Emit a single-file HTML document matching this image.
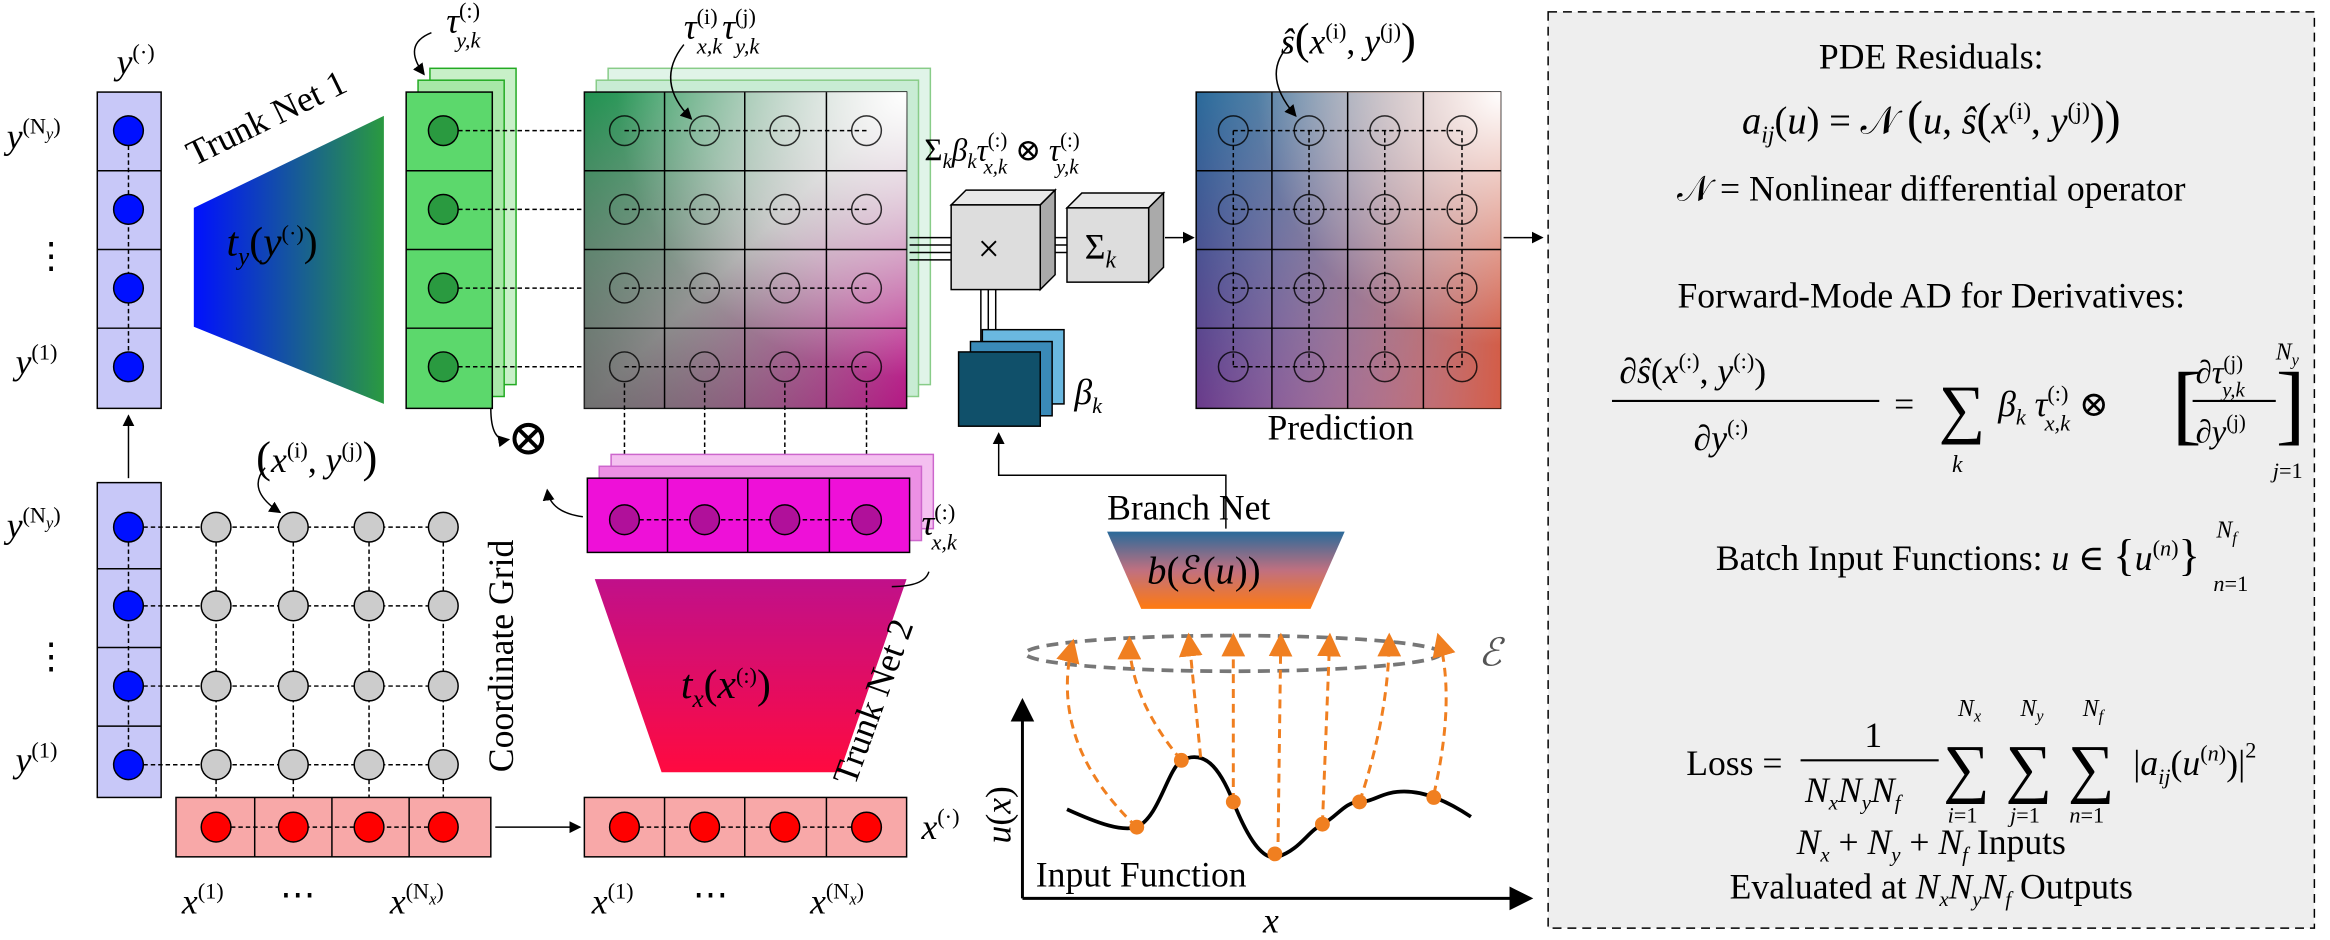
<!DOCTYPE html>
<html><head><meta charset="utf-8"><style>
html,body{margin:0;padding:0;background:#fff}
svg{display:block}
text{font-family:"Liberation Serif","DejaVu Serif",serif;fill:#000}
.it{font-style:italic}
</style></head><body>
<svg width="2330" height="940" viewBox="0 0 1568 633" xmlns="http://www.w3.org/2000/svg">
<defs>
<linearGradient id="gT1" x1="0" x2="1"><stop offset="0" stop-color="#0010ff"/><stop offset="1" stop-color="#2a9a40"/></linearGradient>
<linearGradient id="gT2" x1="0" y1="0" x2="0" y2="1"><stop offset="0" stop-color="#c0108a"/><stop offset="1" stop-color="#ff0a40"/></linearGradient>
<linearGradient id="gBr" x1="0" y1="0" x2="0" y2="1"><stop offset="0" stop-color="#2a6a9a"/><stop offset="0.5" stop-color="#c07080"/><stop offset="1" stop-color="#ff7a10"/></linearGradient>
<linearGradient id="gMid" x1="0" y1="0" x2="1" y2="1"><stop offset="0" stop-color="#1a9a50"/><stop offset="0.5" stop-color="#b0b0b0"/><stop offset="1" stop-color="#c0108a"/></linearGradient>
<radialGradient id="gMidW" cx="1" cy="0" r="0.9"><stop offset="0" stop-color="#fff" stop-opacity="1"/><stop offset="1" stop-color="#fff" stop-opacity="0"/></radialGradient>
<linearGradient id="gMidD" x1="0" y1="1" x2="0.6" y2="0.4"><stop offset="0" stop-color="#555" stop-opacity="0.7"/><stop offset="1" stop-color="#555" stop-opacity="0"/></linearGradient>
<linearGradient id="gPr" x1="0" y1="0" x2="0" y2="1"><stop offset="0" stop-color="#2a6a9a"/><stop offset="1" stop-color="#6a3a8a"/></linearGradient>
<linearGradient id="gPr2" x1="0" y1="0" x2="1" y2="0"><stop offset="0" stop-color="#fff" stop-opacity="0"/><stop offset="1" stop-color="#e06040" stop-opacity="0.9"/></linearGradient>
<radialGradient id="gPrW" cx="1" cy="0" r="0.8"><stop offset="0" stop-color="#fff"/><stop offset="1" stop-color="#fff" stop-opacity="0"/></radialGradient>
<marker id="ar" markerWidth="8" markerHeight="8" refX="7" refY="4" orient="auto"><path d="M0,0 L8,4 L0,8z" fill="#000"/></marker>
<marker id="aro" markerWidth="8" markerHeight="8" refX="7" refY="4" orient="auto"><path d="M0,0 L8,4 L0,8z" fill="#f07f20"/></marker>
</defs>

<g>
<rect x="65" y="62" width="43" height="213" fill="#c8c8f8" stroke="#000"/>
<line x1="65" y1="115" x2="108" y2="115" stroke="#000"/><line x1="65" y1="168" x2="108" y2="168" stroke="#000"/><line x1="65" y1="221" x2="108" y2="221" stroke="#000"/>
<line x1="86" y1="88" x2="86" y2="247" stroke="#000" stroke-dasharray="3,2"/>
<circle cx="86" cy="88" r="10" fill="#0010ff" stroke="#000"/><circle cx="86" cy="141" r="10" fill="#0010ff" stroke="#000"/><circle cx="86" cy="194" r="10" fill="#0010ff" stroke="#000"/><circle cx="86" cy="247" r="10" fill="#0010ff" stroke="#000"/>
<text x="78" y="50" font-size="24" class="it">y<tspan font-size="15" dy="-10" font-style="normal">(·)</tspan></text>
<text x="4" y="100" font-size="24" class="it">y<tspan font-size="15" dy="-10" font-style="normal">(N</tspan><tspan font-size="11" dy="4">y</tspan><tspan font-size="15" dy="-4" font-style="normal">)</tspan></text>
<text x="22" y="180" font-size="24">⋮</text>
<text x="10" y="252" font-size="24" class="it">y<tspan font-size="15" dy="-10" font-style="normal">(1)</tspan></text>
</g>
<line x1="86" y1="322" x2="86" y2="280" stroke="#000" marker-end="url(#ar)"/>

<polygon points="130,140 258,78 258,272 130,220" fill="url(#gT1)"/>
<text x="152" y="172" font-size="28" class="it">t<tspan font-size="17" dy="6">y</tspan><tspan dy="-6" font-style="normal">(</tspan>y<tspan font-size="15" dy="-10" font-style="normal">(·)</tspan><tspan dy="10" font-style="normal">)</tspan></text>
<text x="0" y="0" font-size="24" transform="translate(130,112) rotate(-26)">Trunk Net 1</text>

<g>
<rect x="289" y="46" width="58" height="213" fill="#c8f0c8" stroke="#2a2"/>
<rect x="281" y="54" width="58" height="213" fill="#a8e8a8" stroke="#2a2"/>
<rect x="273" y="62" width="58" height="213" fill="#5cd86c" stroke="#000"/>
<line x1="273" y1="115" x2="331" y2="115" stroke="#000"/><line x1="273" y1="168" x2="331" y2="168" stroke="#000"/><line x1="273" y1="221" x2="331" y2="221" stroke="#000"/>
<circle cx="298" cy="88" r="10" fill="#2a9a40" stroke="#000"/><circle cx="298" cy="141" r="10" fill="#2a9a40" stroke="#000"/><circle cx="298" cy="194" r="10" fill="#2a9a40" stroke="#000"/><circle cx="298" cy="247" r="10" fill="#2a9a40" stroke="#000"/>
<text x="300" y="22" font-size="24" class="it">τ<tspan font-size="15" dy="-10" font-style="normal">(:)</tspan><tspan font-size="15" dx="-16" dy="20">y,k</tspan></text>
<path d="M290,22 Q270,30 285,50" fill="none" stroke="#000" marker-end="url(#ar)"/>
</g>
<g stroke="#000" stroke-dasharray="3,2">
<line x1="308" y1="88" x2="410" y2="88"/><line x1="308" y1="141" x2="410" y2="141"/><line x1="308" y1="194" x2="410" y2="194"/><line x1="308" y1="247" x2="410" y2="247"/>
</g>

<g>
<rect x="409" y="46" width="217" height="213" fill="#e0f4e8" stroke="#8c8"/>
<rect x="401" y="54" width="217" height="213" fill="#c8ecd4" stroke="#8c8"/>
<rect x="393" y="62" width="217" height="213" fill="url(#gMid)" stroke="#000"/>
<rect x="393" y="62" width="217" height="213" fill="url(#gMidD)"/>
<rect x="393" y="62" width="217" height="213" fill="url(#gMidW)"/>
<g stroke="#000"><line x1="447" y1="62" x2="447" y2="275"/><line x1="501" y1="62" x2="501" y2="275"/><line x1="556" y1="62" x2="556" y2="275"/>
<line x1="393" y1="115" x2="610" y2="115"/><line x1="393" y1="168" x2="610" y2="168"/><line x1="393" y1="221" x2="610" y2="221"/></g>
<g stroke="#000" stroke-dasharray="3,2"><line x1="420" y1="88" x2="583" y2="88"/><line x1="420" y1="141" x2="583" y2="141"/><line x1="420" y1="194" x2="583" y2="194"/><line x1="420" y1="247" x2="583" y2="247"/></g>
<g fill="none" stroke="#000" stroke-opacity="0.8">
<circle cx="420" cy="88" r="10"/><circle cx="474" cy="88" r="10"/><circle cx="528" cy="88" r="10"/><circle cx="583" cy="88" r="10"/>
<circle cx="420" cy="141" r="10"/><circle cx="474" cy="141" r="10"/><circle cx="528" cy="141" r="10"/><circle cx="583" cy="141" r="10"/>
<circle cx="420" cy="194" r="10"/><circle cx="474" cy="194" r="10"/><circle cx="528" cy="194" r="10"/><circle cx="583" cy="194" r="10"/>
<circle cx="420" cy="247" r="10"/><circle cx="474" cy="247" r="10"/><circle cx="528" cy="247" r="10"/><circle cx="583" cy="247" r="10"/></g>
<text x="460" y="26" font-size="24" class="it">τ<tspan font-size="15" dy="-10" font-style="normal">(i)</tspan><tspan font-size="15" dx="-14" dy="20">x,k</tspan><tspan dy="-10">τ</tspan><tspan font-size="15" dy="-10" font-style="normal">(j)</tspan><tspan font-size="15" dx="-14" dy="20">y,k</tspan></text>
<path d="M460,30 Q440,55 465,80" fill="none" stroke="#000" marker-end="url(#ar)"/>
</g>
<g stroke="#000" stroke-dasharray="3,2">
<line x1="420" y1="258" x2="420" y2="340"/><line x1="474" y1="258" x2="474" y2="340"/><line x1="528" y1="258" x2="528" y2="340"/><line x1="583" y1="258" x2="583" y2="340"/>
</g>

<g>
<rect x="411" y="306" width="217" height="50" fill="#f4c0f0" stroke="#c6c"/>
<rect x="403" y="314" width="217" height="50" fill="#ec90e4" stroke="#c6c"/>
<rect x="395" y="322" width="217" height="50" fill="#ee10d8" stroke="#000"/>
<g stroke="#000"><line x1="449" y1="322" x2="449" y2="372"/><line x1="503" y1="322" x2="503" y2="372"/><line x1="558" y1="322" x2="558" y2="372"/></g>
<line x1="420" y1="350" x2="583" y2="350" stroke="#000" stroke-dasharray="3,2"/>
<circle cx="420" cy="350" r="10" fill="#b0109a" stroke="#000"/><circle cx="474" cy="350" r="10" fill="#b0109a" stroke="#000"/><circle cx="528" cy="350" r="10" fill="#b0109a" stroke="#000"/><circle cx="583" cy="350" r="10" fill="#b0109a" stroke="#000"/>
<text x="620" y="360" font-size="24" class="it">τ<tspan font-size="15" dy="-10" font-style="normal">(:)</tspan><tspan font-size="15" dx="-16" dy="20">x,k</tspan></text>
<path d="M392,348 Q370,345 368,330" fill="none" stroke="#000" marker-end="url(#ar)"/>
</g>

<polygon points="400,390 610,390 565,520 445,520" fill="url(#gT2)"/>
<text x="458" y="470" font-size="28" class="it">t<tspan font-size="17" dy="6">x</tspan><tspan dy="-6" font-style="normal">(</tspan>x<tspan font-size="15" dy="-10" font-style="normal">(:)</tspan><tspan dy="10" font-style="normal">)</tspan></text>
<text font-size="24" transform="translate(575,530) rotate(-70)">Trunk Net 2</text>
<path d="M600,395 Q622,395 625,385" fill="none" stroke="#000"/>

<g>
<rect x="393" y="537" width="217" height="40" fill="#f8a8a8" stroke="#000"/>
<g stroke="#000"><line x1="447" y1="537" x2="447" y2="577"/><line x1="501" y1="537" x2="501" y2="577"/><line x1="556" y1="537" x2="556" y2="577"/></g>
<line x1="420" y1="557" x2="583" y2="557" stroke="#000" stroke-dasharray="3,2"/>
<circle cx="420" cy="557" r="10" fill="#f00" stroke="#000"/><circle cx="474" cy="557" r="10" fill="#f00" stroke="#000"/><circle cx="528" cy="557" r="10" fill="#f00" stroke="#000"/><circle cx="583" cy="557" r="10" fill="#f00" stroke="#000"/>
<text x="620" y="565" font-size="24" class="it">x<tspan font-size="15" dy="-10" font-style="normal">(·)</tspan></text>
<text x="398" y="615" font-size="24" class="it">x<tspan font-size="15" dy="-10" font-style="normal">(1)</tspan></text>
<text x="466" y="610" font-size="24">⋯</text>
<text x="545" y="615" font-size="24" class="it">x<tspan font-size="15" dy="-10" font-style="normal">(N</tspan><tspan font-size="11" dy="4">x</tspan><tspan font-size="15" dy="-4" font-style="normal">)</tspan></text>
</g>
<line x1="333" y1="557" x2="390" y2="557" stroke="#000" marker-end="url(#ar)"/>

<g>
<rect x="65" y="325" width="43" height="212" fill="#c8c8f8" stroke="#000"/>
<line x1="65" y1="383" x2="108" y2="383" stroke="#000"/><line x1="65" y1="436" x2="108" y2="436" stroke="#000"/><line x1="65" y1="489" x2="108" y2="489" stroke="#000"/>
<g stroke="#000" stroke-dasharray="3,2">
<line x1="86" y1="355" x2="298" y2="355"/><line x1="86" y1="408" x2="298" y2="408"/><line x1="86" y1="462" x2="298" y2="462"/><line x1="86" y1="515" x2="298" y2="515"/>
<line x1="86" y1="355" x2="86" y2="515"/><line x1="145" y1="355" x2="145" y2="557"/><line x1="197" y1="355" x2="197" y2="557"/><line x1="248" y1="355" x2="248" y2="557"/><line x1="298" y1="355" x2="298" y2="557"/></g>
<rect x="118" y="537" width="212" height="40" fill="#f8a8a8" stroke="#000"/>
<g stroke="#000"><line x1="171" y1="537" x2="171" y2="577"/><line x1="223" y1="537" x2="223" y2="577"/><line x1="275" y1="537" x2="275" y2="577"/></g>
<line x1="145" y1="557" x2="298" y2="557" stroke="#000" stroke-dasharray="3,2"/>
<g fill="#f00" stroke="#000"><circle cx="145" cy="557" r="10"/><circle cx="197" cy="557" r="10"/><circle cx="248" cy="557" r="10"/><circle cx="298" cy="557" r="10"/></g>
<g fill="#0010ff" stroke="#000"><circle cx="86" cy="355" r="10"/><circle cx="86" cy="408" r="10"/><circle cx="86" cy="462" r="10"/><circle cx="86" cy="515" r="10"/></g>
<g fill="#ccc" stroke="#000">
<circle cx="145" cy="355" r="10"/><circle cx="197" cy="355" r="10"/><circle cx="248" cy="355" r="10"/><circle cx="298" cy="355" r="10"/>
<circle cx="145" cy="408" r="10"/><circle cx="197" cy="408" r="10"/><circle cx="248" cy="408" r="10"/><circle cx="298" cy="408" r="10"/>
<circle cx="145" cy="462" r="10"/><circle cx="197" cy="462" r="10"/><circle cx="248" cy="462" r="10"/><circle cx="298" cy="462" r="10"/>
<circle cx="145" cy="515" r="10"/><circle cx="197" cy="515" r="10"/><circle cx="248" cy="515" r="10"/><circle cx="298" cy="515" r="10"/></g>
<text x="4" y="362" font-size="24" class="it">y<tspan font-size="15" dy="-10" font-style="normal">(N</tspan><tspan font-size="11" dy="4">y</tspan><tspan font-size="15" dy="-4" font-style="normal">)</tspan></text>
<text x="22" y="450" font-size="24">⋮</text>
<text x="10" y="520" font-size="24" class="it">y<tspan font-size="15" dy="-10" font-style="normal">(1)</tspan></text>
<text x="122" y="615" font-size="24" class="it">x<tspan font-size="15" dy="-10" font-style="normal">(1)</tspan></text>
<text x="188" y="610" font-size="24">⋯</text>
<text x="262" y="615" font-size="24" class="it">x<tspan font-size="15" dy="-10" font-style="normal">(N</tspan><tspan font-size="11" dy="4">x</tspan><tspan font-size="15" dy="-4" font-style="normal">)</tspan></text>
<text font-size="24" transform="translate(345,520) rotate(-90)">Coordinate Grid</text>
<text x="172" y="318" font-size="24"><tspan font-size="30">(</tspan><tspan class="it">x</tspan><tspan font-size="15" dy="-10">(i)</tspan><tspan dy="10">, </tspan><tspan class="it">y</tspan><tspan font-size="15" dy="-10">(j)</tspan><tspan font-size="30" dy="10">)</tspan></text>
<path d="M178,315 Q165,330 188,345" fill="none" stroke="#000" marker-end="url(#ar)"/>
</g>
<text x="341" y="306" font-size="34">⊗</text>
<path d="M330,275 Q330,298 342,296" fill="none" stroke="#000" marker-end="url(#ar)"/>

<g stroke="#000" fill="none">
<line x1="612" y1="160" x2="640" y2="160"/><line x1="612" y1="165" x2="640" y2="165"/><line x1="612" y1="170" x2="640" y2="170"/><line x1="612" y1="175" x2="640" y2="175"/>
<line x1="660" y1="195" x2="660" y2="232"/><line x1="665" y1="195" x2="665" y2="232"/><line x1="670" y1="195" x2="670" y2="232"/>
<line x1="700" y1="160" x2="718" y2="160"/><line x1="700" y1="165" x2="718" y2="165"/><line x1="700" y1="170" x2="718" y2="170"/>
</g>
<g>
<polygon points="640,138 650,128 710,128 700,138" fill="#e8e8e8" stroke="#000"/>
<polygon points="700,138 710,128 710,185 700,195" fill="#aaa" stroke="#000"/>
<rect x="640" y="138" width="60" height="57" fill="#ddd" stroke="#000"/>
<text x="658" y="176" font-size="26">×</text>
</g>
<g>
<polygon points="718,140 728,130 783,130 773,140" fill="#e8e8e8" stroke="#000"/>
<polygon points="773,140 783,130 783,180 773,190" fill="#aaa" stroke="#000"/>
<rect x="718" y="140" width="55" height="50" fill="#ddd" stroke="#000"/>
<text x="730" y="174" font-size="24">Σ<tspan class="it" font-size="16" dy="6">k</tspan></text>
</g>
<line x1="784" y1="160" x2="803" y2="160" stroke="#000" marker-end="url(#ar)"/>
<text x="622" y="108" font-size="21">Σ<tspan class="it" font-size="14" dy="5">k</tspan><tspan class="it" dy="-5">β</tspan><tspan class="it" font-size="14" dy="5">k</tspan><tspan class="it" dy="-5">τ</tspan><tspan font-size="14" dy="-9">(:)</tspan><tspan class="it" font-size="14" dx="-16" dy="18">x,k</tspan><tspan dy="-9"> ⊗ </tspan><tspan class="it">τ</tspan><tspan font-size="14" dy="-9">(:)</tspan><tspan class="it" font-size="14" dx="-16" dy="18">y,k</tspan></text>

<g>
<rect x="661" y="222" width="55" height="50" fill="#6ab8e0" stroke="#000"/>
<rect x="653" y="230" width="55" height="50" fill="#3a8ab8" stroke="#000"/>
<rect x="645" y="237" width="55" height="50" fill="#10506a" stroke="#000"/>
<text x="723" y="272" font-size="24" class="it">β<tspan font-size="15" dy="6">k</tspan></text>
</g>
<polyline points="825,356 825,320 672,320 672,292" fill="none" stroke="#000" marker-end="url(#ar)"/>

<g>
<rect x="805" y="62" width="205" height="213" fill="url(#gPr)" stroke="#000"/>
<rect x="805" y="62" width="205" height="213" fill="url(#gPr2)"/>
<rect x="805" y="62" width="205" height="213" fill="url(#gPrW)"/>
<g stroke="#000"><line x1="856" y1="62" x2="856" y2="275"/><line x1="907" y1="62" x2="907" y2="275"/><line x1="958" y1="62" x2="958" y2="275"/>
<line x1="805" y1="115" x2="1010" y2="115"/><line x1="805" y1="168" x2="1010" y2="168"/><line x1="805" y1="221" x2="1010" y2="221"/></g>
<g stroke="#000" stroke-dasharray="3,2"><line x1="830" y1="88" x2="984" y2="88"/><line x1="830" y1="141" x2="984" y2="141"/><line x1="830" y1="194" x2="984" y2="194"/><line x1="830" y1="247" x2="984" y2="247"/>
<line x1="830" y1="88" x2="830" y2="247"/><line x1="881" y1="88" x2="881" y2="247"/><line x1="932" y1="88" x2="932" y2="247"/><line x1="984" y1="88" x2="984" y2="247"/></g>
<g fill="none" stroke="#000" stroke-opacity="0.8">
<circle cx="830" cy="88" r="10"/><circle cx="881" cy="88" r="10"/><circle cx="932" cy="88" r="10"/><circle cx="984" cy="88" r="10"/>
<circle cx="830" cy="141" r="10"/><circle cx="881" cy="141" r="10"/><circle cx="932" cy="141" r="10"/><circle cx="984" cy="141" r="10"/>
<circle cx="830" cy="194" r="10"/><circle cx="881" cy="194" r="10"/><circle cx="932" cy="194" r="10"/><circle cx="984" cy="194" r="10"/>
<circle cx="830" cy="247" r="10"/><circle cx="881" cy="247" r="10"/><circle cx="932" cy="247" r="10"/><circle cx="984" cy="247" r="10"/></g>
<text x="853" y="296" font-size="24">Prediction</text>
<text x="862" y="36" font-size="24"><tspan class="it">ŝ</tspan><tspan font-size="30">(</tspan><tspan class="it">x</tspan><tspan font-size="15" dy="-10">(i)</tspan><tspan dy="10">, </tspan><tspan class="it">y</tspan><tspan font-size="15" dy="-10">(j)</tspan><tspan font-size="30" dy="10">)</tspan></text>
<path d="M868,30 Q848,50 872,78" fill="none" stroke="#000" marker-end="url(#ar)"/>
</g>
<line x1="1012" y1="160" x2="1038" y2="160" stroke="#000" marker-end="url(#ar)"/>

<text x="745" y="350" font-size="24">Branch Net</text>
<polygon points="745,358 905,358 882,410 768,410" fill="url(#gBr)"/>
<text x="772" y="393" font-size="26"><tspan class="it">b</tspan>(ℰ(<tspan class="it">u</tspan>))</text>

<g>
<ellipse cx="830" cy="440" rx="140" ry="12" fill="none" stroke="#777" stroke-width="2.5" stroke-dasharray="8,5"/>
<text x="995" y="448" font-size="26" class="it" style="fill:#555">ℰ</text>
<line x1="688" y1="605" x2="1030" y2="605" stroke="#000" stroke-width="2" marker-end="url(#ar)"/>
<line x1="688" y1="605" x2="688" y2="472" stroke="#000" stroke-width="2" marker-end="url(#ar)"/>
<text font-size="24" class="it" transform="translate(680,568) rotate(-90)">u<tspan font-style="normal">(</tspan>x<tspan font-style="normal">)</tspan></text>
<text x="850" y="628" font-size="24" class="it">x</text>
<text x="697" y="597" font-size="24">Input Function</text>
<path d="M718,545 C740,555 755,560 765,557 C780,550 785,520 795,512 C810,505 820,515 830,540 C840,565 850,580 860,577 C875,572 880,560 890,555 C900,550 905,540 915,540 C925,540 930,533 945,533 C960,533 975,540 990,550" fill="none" stroke="#000" stroke-width="2.5"/>
<g stroke="#f07f20" stroke-width="2" stroke-dasharray="6,4" fill="none">
<path d="M765,557 Q705,500 722,432" marker-end="url(#aro)"/>
<path d="M795,512 Q760,470 760,430" marker-end="url(#aro)"/>
<path d="M808,510 L800,428" marker-end="url(#aro)"/>
<path d="M830,540 L830,428" marker-end="url(#aro)"/>
<path d="M860,577 L862,428" marker-end="url(#aro)"/>
<path d="M890,555 L895,428" marker-end="url(#aro)"/>
<path d="M915,540 Q935,480 935,428" marker-end="url(#aro)"/>
<path d="M965,535 Q980,470 968,428" marker-end="url(#aro)"/>
</g>
<g fill="#f07f20"><circle cx="765" cy="557" r="5"/><circle cx="795" cy="512" r="5"/><circle cx="830" cy="540" r="5"/><circle cx="858" cy="575" r="5"/><circle cx="890" cy="555" r="5"/><circle cx="915" cy="540" r="5"/><circle cx="965" cy="537" r="5"/></g>
</g>

<g>
<rect x="1042" y="8" width="516" height="617" fill="#eeeeee" stroke="#000" stroke-dasharray="6,4"/>
<text x="1300" y="46" font-size="24" text-anchor="middle">PDE Residuals:</text>
<text x="1300" y="90" font-size="26" text-anchor="middle"><tspan class="it">a</tspan><tspan class="it" font-size="16" dy="6">ij</tspan><tspan dy="-6">(</tspan><tspan class="it">u</tspan>) = 𝒩 <tspan font-size="32">(</tspan><tspan class="it">u</tspan>, <tspan class="it">ŝ</tspan><tspan font-size="30">(</tspan><tspan class="it">x</tspan><tspan font-size="16" dy="-10">(i)</tspan><tspan dy="10">, </tspan><tspan class="it">y</tspan><tspan font-size="16" dy="-10">(j)</tspan><tspan font-size="30" dy="10">)</tspan><tspan font-size="32">)</tspan></text>
<text x="1300" y="135" font-size="24" text-anchor="middle">𝒩 = Nonlinear differential operator</text>
<text x="1300" y="207" font-size="24" text-anchor="middle">Forward-Mode AD for Derivatives:</text>
<text x="1090" y="258" font-size="24">∂<tspan class="it">ŝ</tspan>(<tspan class="it">x</tspan><tspan font-size="15" dy="-10">(:)</tspan><tspan dy="10">, </tspan><tspan class="it">y</tspan><tspan font-size="15" dy="-10">(:)</tspan><tspan dy="10">)</tspan></text>
<line x1="1085" y1="270" x2="1265" y2="270" stroke="#000" stroke-width="1.5"/>
<text x="1140" y="303" font-size="24">∂<tspan class="it">y</tspan><tspan font-size="15" dy="-10">(:)</tspan></text>
<text x="1275" y="280" font-size="24">=</text>
<text x="1305" y="290" font-size="44">∑</text>
<text x="1314" y="318" font-size="16" class="it">k</text>
<text x="1345" y="280" font-size="24"><tspan class="it">β</tspan><tspan class="it" font-size="15" dy="6">k</tspan><tspan class="it" dy="-6" dx="6">τ</tspan><tspan font-size="15" dy="-10">(:)</tspan><tspan class="it" font-size="15" dx="-16" dy="20">x,k</tspan><tspan dy="-10"> ⊗ </tspan></text>
<text x="1462" y="292" font-size="60" font-weight="lighter">[</text>
<text x="1478" y="258" font-size="22">∂<tspan class="it">τ</tspan><tspan font-size="14" dy="-9">(j)</tspan><tspan class="it" font-size="14" dx="-14" dy="18">y,k</tspan></text>
<line x1="1476" y1="270" x2="1532" y2="270" stroke="#000" stroke-width="1.5"/>
<text x="1478" y="298" font-size="22">∂<tspan class="it">y</tspan><tspan font-size="14" dy="-9">(j)</tspan></text>
<text x="1532" y="292" font-size="60">]</text>
<text x="1532" y="242" font-size="16" class="it">N<tspan font-size="11" dy="4">y</tspan></text>
<text x="1530" y="322" font-size="15"><tspan class="it">j</tspan>=1</text>
<text x="1155" y="384" font-size="24">Batch Input Functions: <tspan class="it">u</tspan> ∈ <tspan font-size="30">{</tspan><tspan class="it">u</tspan><tspan font-size="15" dy="-10">(<tspan class="it">n</tspan>)</tspan><tspan font-size="30" dy="10">}</tspan></text>
<text x="1492" y="362" font-size="16" class="it">N<tspan font-size="11" dy="4">f</tspan></text>
<text x="1490" y="398" font-size="15"><tspan class="it">n</tspan>=1</text>
<text x="1135" y="522" font-size="24">Loss =</text>
<text x="1255" y="503" font-size="24">1</text>
<line x1="1212" y1="512" x2="1305" y2="512" stroke="#000" stroke-width="1.5"/>
<text x="1215" y="540" font-size="24" class="it">N<tspan font-size="14" dy="5">x</tspan><tspan dy="-5">N</tspan><tspan font-size="14" dy="5">y</tspan><tspan dy="-5">N</tspan><tspan font-size="14" dy="5">f</tspan></text>
<text x="1308" y="532" font-size="44">∑</text>
<text x="1350" y="532" font-size="44">∑</text>
<text x="1392" y="532" font-size="44">∑</text>
<text x="1318" y="482" font-size="16" class="it">N<tspan font-size="11" dy="4">x</tspan></text>
<text x="1360" y="482" font-size="16" class="it">N<tspan font-size="11" dy="4">y</tspan></text>
<text x="1402" y="482" font-size="16" class="it">N<tspan font-size="11" dy="4">f</tspan></text>
<text x="1311" y="554" font-size="15"><tspan class="it">i</tspan>=1</text>
<text x="1353" y="554" font-size="15"><tspan class="it">j</tspan>=1</text>
<text x="1393" y="554" font-size="15"><tspan class="it">n</tspan>=1</text>
<text x="1436" y="522" font-size="24">|<tspan class="it">a</tspan><tspan class="it" font-size="15" dy="6">ij</tspan><tspan dy="-6">(</tspan><tspan class="it">u</tspan><tspan font-size="15" dy="-10">(<tspan class="it">n</tspan>)</tspan><tspan dy="10">)</tspan>|<tspan font-size="15" dy="-12">2</tspan></text>
<text x="1300" y="575" font-size="24" text-anchor="middle"><tspan class="it">N<tspan font-size="14" dy="5">x</tspan></tspan><tspan dy="-5"> + </tspan><tspan class="it">N<tspan font-size="14" dy="5">y</tspan></tspan><tspan dy="-5"> + </tspan><tspan class="it">N<tspan font-size="14" dy="5">f</tspan></tspan><tspan dy="-5"> Inputs</tspan></text>
<text x="1300" y="605" font-size="24" text-anchor="middle">Evaluated at <tspan class="it">N<tspan font-size="14" dy="5">x</tspan><tspan dy="-5">N</tspan><tspan font-size="14" dy="5">y</tspan><tspan dy="-5">N</tspan><tspan font-size="14" dy="5">f</tspan></tspan><tspan dy="-5"> Outputs</tspan></text>
</g>
</svg>
</body></html>
